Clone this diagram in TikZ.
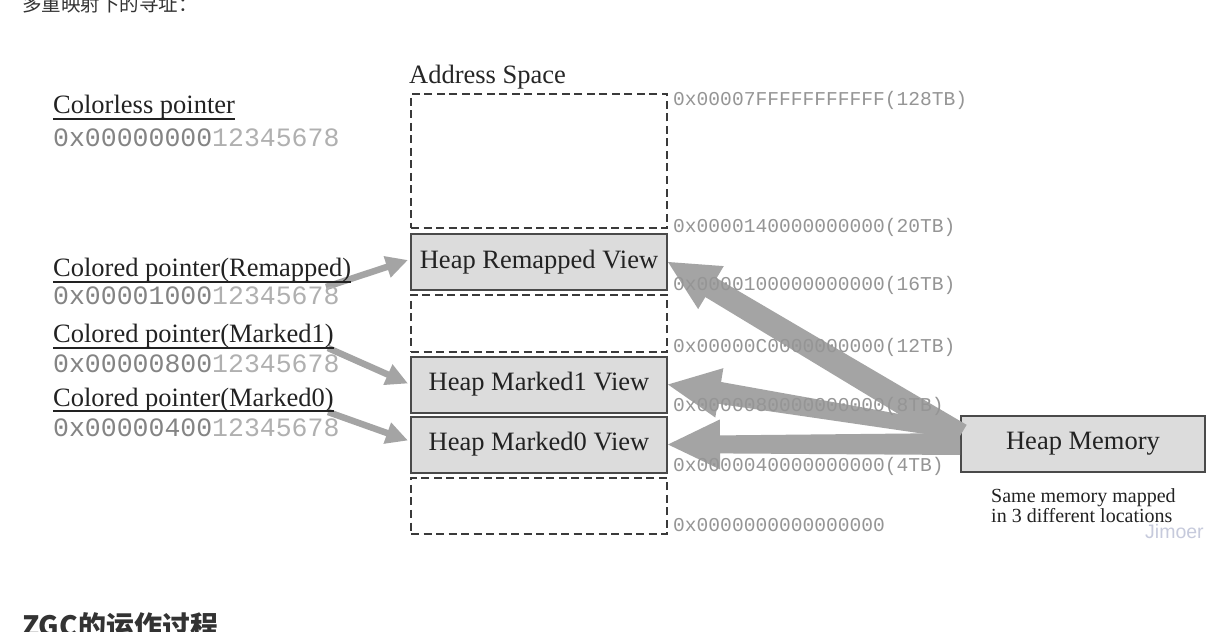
\documentclass[tikz,border=0pt]{standalone}
\usepackage{fontspec}
\setmainfont{Liberation Serif}
\setmonofont{Liberation Mono}
\newfontfamily\cjk{Noto Sans CJK SC}
\newfontfamily\wmfont{Liberation Sans}
\usetikzlibrary{calc,arrows.meta}
\definecolor{boxfill}{HTML}{DCDCDC}
\definecolor{boxline}{HTML}{4A4A4A}
\definecolor{dashline}{HTML}{3A3A3A}
\definecolor{arrowgray}{HTML}{A4A4A4}
\definecolor{hexdark}{HTML}{848484}
\definecolor{hexlight}{HTML}{B0B0B0}
\definecolor{addrgray}{HTML}{959595}
\definecolor{txt}{HTML}{222222}
\definecolor{wm}{HTML}{C6CADC}
\definecolor{cjkgray}{HTML}{333333}
\tikzset{
  lbl/.style={inner sep=0pt, anchor=base west, text=txt, font=\fontsize{26.5bp}{30bp}\selectfont},
  hexl/.style={inner sep=0pt, anchor=base west, font=\ttfamily\fontsize{26.5bp}{30bp}\selectfont},
  addr/.style={inner sep=0pt, anchor=base west, text=addrgray, font=\ttfamily\fontsize{19.6bp}{22bp}\selectfont},
  uline/.style={draw=txt, line width=1.4bp},
  dashbox/.style={draw=dashline, line width=1.6bp, dash pattern=on 8bp off 4.5bp, minimum width=256bp, inner sep=0pt},
  viewbox/.style={draw=boxline, fill=boxfill, line width=2bp, text=txt, font=\fontsize{26.5bp}{30bp}\selectfont, inner sep=0pt, minimum height=56bp},
  thinarrow/.style={draw=arrowgray, line width=6.5bp, -{Triangle[length=22bp,width=21bp]}},
  bigarrow/.style={fill=arrowgray},
}
\newcommand\fatarr[6]{%
  \coordinate (fa-b) at ($(#1)!#3!(#2)$);
  \fill[bigarrow] (#1) -- ($(fa-b)!#4!90:(#2)$) -- ($(fa-b)!#5!90:(#2)$)
    -- ($(#2)!#6!270:(#1)$) -- ($(#2)!#6!90:(#1)$)
    -- ($(fa-b)!#5!270:(#2)$) -- ($(fa-b)!#4!270:(#2)$) -- cycle;}
\begin{document}
\begin{tikzpicture}[x=1bp,y=-1bp]
\useasboundingbox (0,0) rectangle (1231,632);
\fill[white] (0,0) rectangle (1231,632);

% cut-off page texts
\node[anchor=base west, inner sep=0pt, text=cjkgray, font=\cjk\fontsize{19.5bp}{20bp}\selectfont] (top) at (22,12) {多重映射下的寻址：};
\node[anchor=base west, inner sep=0pt, text=cjkgray, font=\cjk\bfseries\fontsize{28bp}{30bp}\selectfont] (head) at (22,636) {ZGC的运作过程};

% address space column
\node[lbl, text=black!85] (as) at (409,83.5) {Address Space};
\node[dashbox, minimum height=134bp] (d1) at (539,161) {};
\node[viewbox, minimum width=256bp] (rv) at (539,262) {Heap Remapped View};
\node[dashbox, minimum height=57bp] (d2) at (539,323.5) {};
\node[viewbox, minimum width=256bp] (m1) at (539,384.5) {Heap Marked1 View};
\node[viewbox, minimum width=256bp] (m0) at (539,444.5) {Heap Marked0 View};
\node[dashbox, minimum height=56bp] (d3) at (539,506) {};

% heap memory
\node[viewbox, minimum width=244bp] (hm) at (1083,444) {Heap Memory};
\node[anchor=north west, inner sep=0pt, align=left, text=txt, font=\fontsize{20bp}{20bp}\selectfont] (same) at (991,488.5) {Same memory mapped\\in 3 different locations};
\node[anchor=base west, inner sep=0pt, text=wm, font=\wmfont\fontsize{19.5bp}{20bp}\selectfont] (wmk) at (1145,538) {Jimoer};

% big arrows from heap memory
\coordinate (srcR) at ($(hm.west)+(0,-8)$);
\coordinate (srcA) at ($(hm.west)+(0,-12)$);
\coordinate (srcB) at (hm.west);
\fatarr{rv.east}{srcR}{50bp}{25bp}{11bp}{13bp}
\fatarr{m1.east}{srcA}{52bp}{25bp}{11bp}{7bp}
\fatarr{m0.east}{srcB}{52bp}{25bp}{9bp}{11bp}

% left pointer arrows
\coordinate (sR) at (326,287);
\coordinate (sA) at (328,348);
\coordinate (sB) at (328,412);
\draw[thinarrow] (sR) -- ($(rv.west)+(-2,-2)$);
\draw[thinarrow] (sA) -- ($(m1.west)+(-2,-1)$);
\draw[thinarrow] (sB) -- ($(m0.west)+(-2,-4)$);

% left labels
\node[lbl] (cl) at (53,114) {Colorless pointer};
\draw[uline] ([yshift=-5bp]cl.base west) -- ([yshift=-5bp]cl.base east);
\node[hexl] (hcl) at (53,147) {{\color{hexdark}0x00000000}{\color{hexlight}12345678}};

\node[lbl] (cr) at (53,277) {Colored pointer(Remapped)};
\draw[uline] ([yshift=-5bp]cr.base west) -- ([yshift=-5bp]cr.base east);
\node[hexl] (hcr) at (53,305) {{\color{hexdark}0x00001000}{\color{hexlight}12345678}};

\node[lbl] (ca) at (53,343) {Colored pointer(Marked1)};
\draw[uline] ([yshift=-5bp]ca.base west) -- ([yshift=-5bp]ca.base east);
\node[hexl] (hca) at (53,372) {{\color{hexdark}0x00000800}{\color{hexlight}12345678}};

\node[lbl] (cb) at (53,406) {Colored pointer(Marked0)};
\draw[uline] ([yshift=-5bp]cb.base west) -- ([yshift=-5bp]cb.base east);
\node[hexl] (hcb) at (53,436) {{\color{hexdark}0x00000400}{\color{hexlight}12345678}};

% address labels
\node[addr] (a1) at (673,106) {0x00007FFFFFFFFFFF(128TB)};
\node[addr] (a2) at (673,233) {0x0000140000000000(20TB)};
\node[addr] (a3) at (673,291) {0x0000100000000000(16TB)};
\node[addr] (a4) at (673,353) {0x00000C0000000000(12TB)};
\node[addr] (a5) at (673,411) {0x0000080000000000(8TB)};
\node[addr] (a6) at (673,471) {0x0000040000000000(4TB)};
\node[addr] (a7) at (673,531) {0x0000000000000000};
\end{tikzpicture}
\end{document}
